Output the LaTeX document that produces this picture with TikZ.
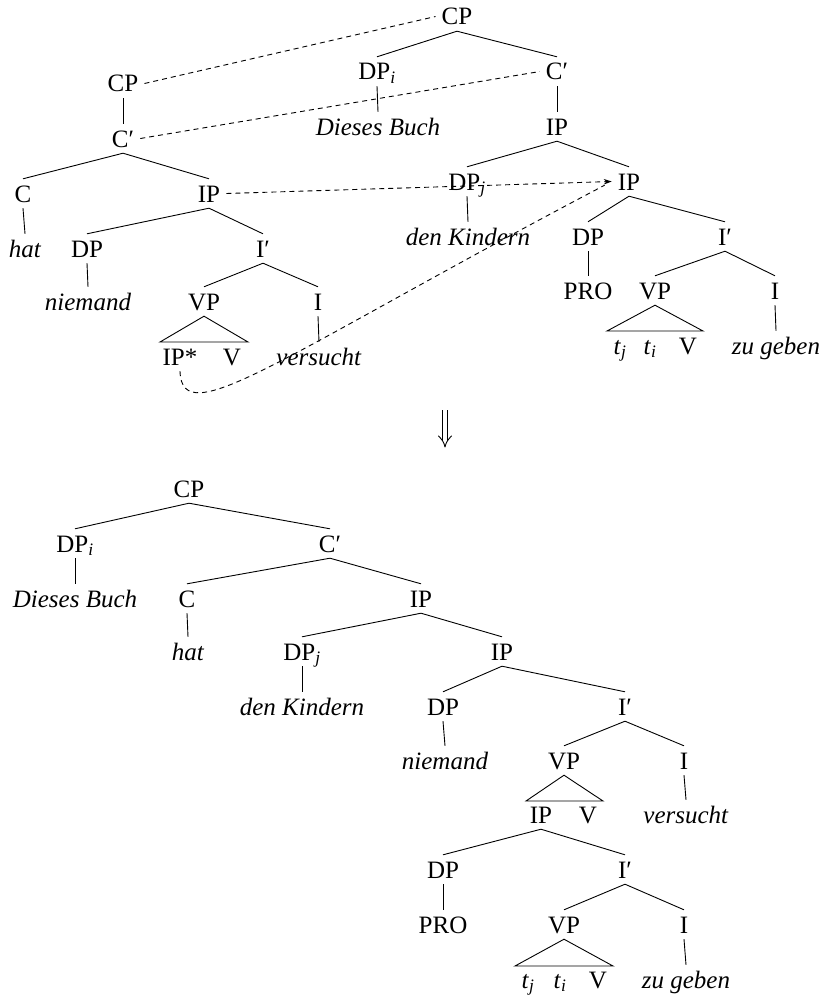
\documentclass[tikz,border=0pt]{standalone}
\usepackage{fontspec}
\setmainfont{Liberation Serif}
\usetikzlibrary{arrows.meta}
\newcommand{\sbi}{\textsubscript{\textit{i}}}
\newcommand{\sbj}{\textsubscript{\textit{j}}}
\begin{document}
\begin{tikzpicture}[x=1pt,y=-1pt,
  n/.style={anchor=base, text height=17pt, text depth=0pt, inner sep=6pt, font=\fontsize{25}{30}\selectfont},
  br/.style={line width=0.9pt},
  mv/.style={line width=0.9pt, dash pattern=on 5pt off 4pt}]
\useasboundingbox (0,0) rectangle (825,998);
% ---------- top right tree ----------
\node[n] (tCP) at (457,25) {CP};
\node[n] (tDPi) at (377,80) {DP\sbi};
\node[n] (tC1) at (557,80) {C′};
\node[n] (tDB) at (378,135) {\textit{Dieses Buch}};
\node[n] (tIP1) at (557,135) {IP};
\node[n] (tDPj) at (467,190) {DP\sbj};
\node[n] (tIP2) at (629,190) {IP};
\node[n] (tDK) at (468,245) {\textit{den Kindern}};
\node[n] (tDP) at (588,245) {DP};
\node[n] (tI1) at (725,245) {I′};
\node[n] (tPRO) at (588,299) {PRO};
\node[n] (tVP) at (655,299) {VP};
\node[n] (tI) at (775,299) {I};
\node[n] (ttj) at (620,354) {\textit{t}\sbj};
\node[n] (tti) at (650,354) {\textit{t}\sbi};
\node[n] (tV) at (688,354) {V};
\node[n] (tZG) at (776,354) {\textit{zu geben}};
\coordinate (tTa) at (607,331);
\coordinate (tTb) at (703,331);
\foreach \a/\b in {tCP/tDPi,tCP/tC1,tDPi/tDB,tC1/tIP1,tIP1/tDPj,tIP1/tIP2,tDPj/tDK,tIP2/tDP,tIP2/tI1,tDP/tPRO,tI1/tVP,tI1/tI,tI/tZG}
  \draw[br] (\a.south) -- (\b.north);
\draw[br] (tVP.south) -- (tTa) -- (tTb) -- cycle;
% ---------- top left tree ----------
\node[n] (lCP) at (123,92) {CP};
\node[n] (lC1) at (123,147) {C′};
\node[n] (lC) at (23,202) {C};
\node[n] (lIP) at (209,202) {IP};
\node[n] (lhat) at (25,257) {\textit{hat}};
\node[n] (lDP) at (87,257) {DP};
\node[n] (lI1) at (263,257) {I′};
\node[n] (lnie) at (88,310) {\textit{niemand}};
\node[n] (lVP) at (204,310) {VP};
\node[n] (lI) at (318,310) {I};
\node[n] (lIPs) at (180,365) {IP*};
\node[n] (lV) at (232,365) {V};
\node[n] (lvers) at (319,365) {\textit{versucht}};
\coordinate (lTa) at (160,342);
\coordinate (lTb) at (248,342);
\foreach \a/\b in {lCP/lC1,lC1/lC,lC1/lIP,lC/lhat,lIP/lDP,lIP/lI1,lDP/lnie,lI1/lVP,lI1/lI,lI/lvers}
  \draw[br] (\a.south) -- (\b.north);
\draw[br] (lVP.south) -- (lTa) -- (lTb) -- cycle;
% ---------- dashed connections ----------
\draw[mv] (lCP.east) -- (tCP.west);
\draw[mv] (lC1.east) -- (tC1.west);
\draw[mv, -{Stealth[length=8pt,width=5.5pt]}] (lIP.east) -- (tIP2.west);
\draw[mv, shorten >=8pt] (lIPs.south) .. controls (182,434) and (280,356) .. (tIP2.west);
% ---------- derivation arrow ----------
\draw[line width=0.9pt] (442.5,410) -- (442.5,441);
\draw[line width=0.9pt] (447.5,410) -- (447.5,441);
\draw[line width=0.9pt, line cap=round, line join=round]
  (438.5,436) .. controls (441.5,439) and (444,442) .. (445,447)
  .. controls (446,442) and (448.5,439) .. (451.5,436);
% ---------- bottom tree ----------
\node[n] (bCP) at (189,497) {CP};
\node[n] (bDPi) at (75,552) {DP\sbi};
\node[n] (bC1) at (330,552) {C′};
\node[n] (bDB) at (75,607) {\textit{Dieses Buch}};
\node[n] (bC) at (187,607) {C};
\node[n] (bIP1) at (421,607) {IP};
\node[n] (bhat) at (188,660) {\textit{hat}};
\node[n] (bDPj) at (302,660) {DP\sbj};
\node[n] (bIP2) at (502,660) {IP};
\node[n] (bDK) at (302,715) {\textit{den Kindern}};
\node[n] (bDP) at (443,715) {DP};
\node[n] (bI1) at (625,715) {I′};
\node[n] (bnie) at (445,769) {\textit{niemand}};
\node[n] (bVP) at (564,769) {VP};
\node[n] (bI) at (684,769) {I};
\node[n] (bIP3) at (541,823) {IP};
\node[n] (bV) at (588,823) {V};
\node[n] (bvers) at (686,823) {\textit{versucht}};
\node[n] (bDP2) at (443,878) {DP};
\node[n] (bI2) at (625,878) {I′};
\node[n] (bPRO) at (443,933) {PRO};
\node[n] (bVP2) at (564,933) {VP};
\node[n] (bI3) at (684,933) {I};
\node[n] (btj) at (528,988) {\textit{t}\sbj};
\node[n] (bti) at (560,988) {\textit{t}\sbi};
\node[n] (bV2) at (598,988) {V};
\node[n] (bZG) at (686,988) {\textit{zu geben}};
\coordinate (bTa) at (526,801);
\coordinate (bTb) at (603,801);
\coordinate (bTc) at (515,966);
\coordinate (bTd) at (613,966);
\foreach \a/\b in {bCP/bDPi,bCP/bC1,bDPi/bDB,bC1/bC,bC1/bIP1,bC/bhat,bIP1/bDPj,bIP1/bIP2,bDPj/bDK,bIP2/bDP,bIP2/bI1,bDP/bnie,bI1/bVP,bI1/bI,bI/bvers,bIP3/bDP2,bIP3/bI2,bDP2/bPRO,bI2/bVP2,bI2/bI3,bI3/bZG}
  \draw[br] (\a.south) -- (\b.north);
\draw[br] (bVP.south) -- (bTa) -- (bTb) -- cycle;
\draw[br] (bVP2.south) -- (bTc) -- (bTd) -- cycle;
\end{tikzpicture}
\end{document}
